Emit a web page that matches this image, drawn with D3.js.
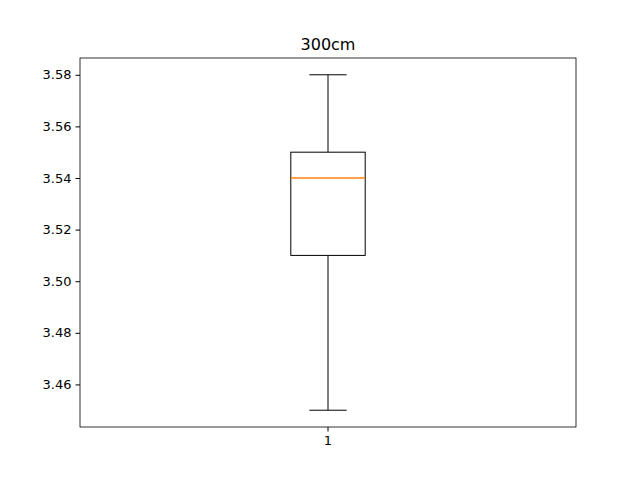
<!DOCTYPE html>
<html><head><meta charset="utf-8">
<script src="https://cdn.jsdelivr.net/npm/d3@7"></script>
<style>body{margin:0;background:#fff}text{font-family:"DejaVu Sans",sans-serif}</style>
</head><body>
<script>
const categories = ["1"];
const whiskerLow = [3.45];
const q1 = [3.51];
const median = [3.54];
const q3 = [3.55];
const whiskerHigh = [3.58];
const yTicks = [3.46, 3.48, 3.50, 3.52, 3.54, 3.56, 3.58];
const title = "300cm";

const W=640,H=480,L=80,R=576,T=58,B=427;
const svg=d3.select("body").append("svg").attr("width",W).attr("height",H);
const y=d3.scaleLinear().domain([3.4435,3.5865]).range([B,T]);
const x=d3.scaleBand().domain(categories).range([L,R]);
svg.append("g").attr("transform",`translate(${L},0)`)
 .call(d3.axisLeft(y).tickValues(yTicks).tickFormat(d3.format(".2f")).tickSize(4.5).tickPadding(4))
 .call(g=>{g.select(".domain").remove();g.selectAll("text").attr("font-size",13).attr("fill","#000");});
svg.append("g").attr("transform",`translate(0,${B})`)
 .call(d3.axisBottom(x).tickSize(4.5).tickPadding(4))
 .call(g=>{g.select(".domain").remove();g.selectAll("text").attr("font-size",13).attr("fill","#000");});
categories.forEach((c,i)=>{
 const cx=x(c)+x.bandwidth()/2, bw=x.bandwidth()*0.15, cw=bw/2;
 const g=svg.append("g").attr("stroke","#000").attr("fill","none");
 g.append("line").attr("x1",cx).attr("x2",cx).attr("y1",y(whiskerLow[i])).attr("y2",y(q1[i]));
 g.append("line").attr("x1",cx).attr("x2",cx).attr("y1",y(q3[i])).attr("y2",y(whiskerHigh[i]));
 g.append("line").attr("x1",cx-cw/2).attr("x2",cx+cw/2).attr("y1",y(whiskerLow[i])).attr("y2",y(whiskerLow[i]));
 g.append("line").attr("x1",cx-cw/2).attr("x2",cx+cw/2).attr("y1",y(whiskerHigh[i])).attr("y2",y(whiskerHigh[i]));
 g.append("rect").attr("x",cx-bw/2).attr("width",bw).attr("y",y(q3[i])).attr("height",y(q1[i])-y(q3[i]));
 svg.append("line").attr("stroke","#ff7f0e").attr("stroke-width",1.3).attr("x1",cx-bw/2).attr("x2",cx+bw/2).attr("y1",y(median[i])).attr("y2",y(median[i]));
});
svg.append("rect").attr("x",L).attr("y",T).attr("width",R-L).attr("height",B-T).attr("fill","none").attr("stroke","#000").attr("stroke-width",0.8);
svg.append("text").attr("x",(L+R)/2).attr("y",T-8).attr("text-anchor","middle").attr("font-size",16).text(title);
</script>
</body></html>
